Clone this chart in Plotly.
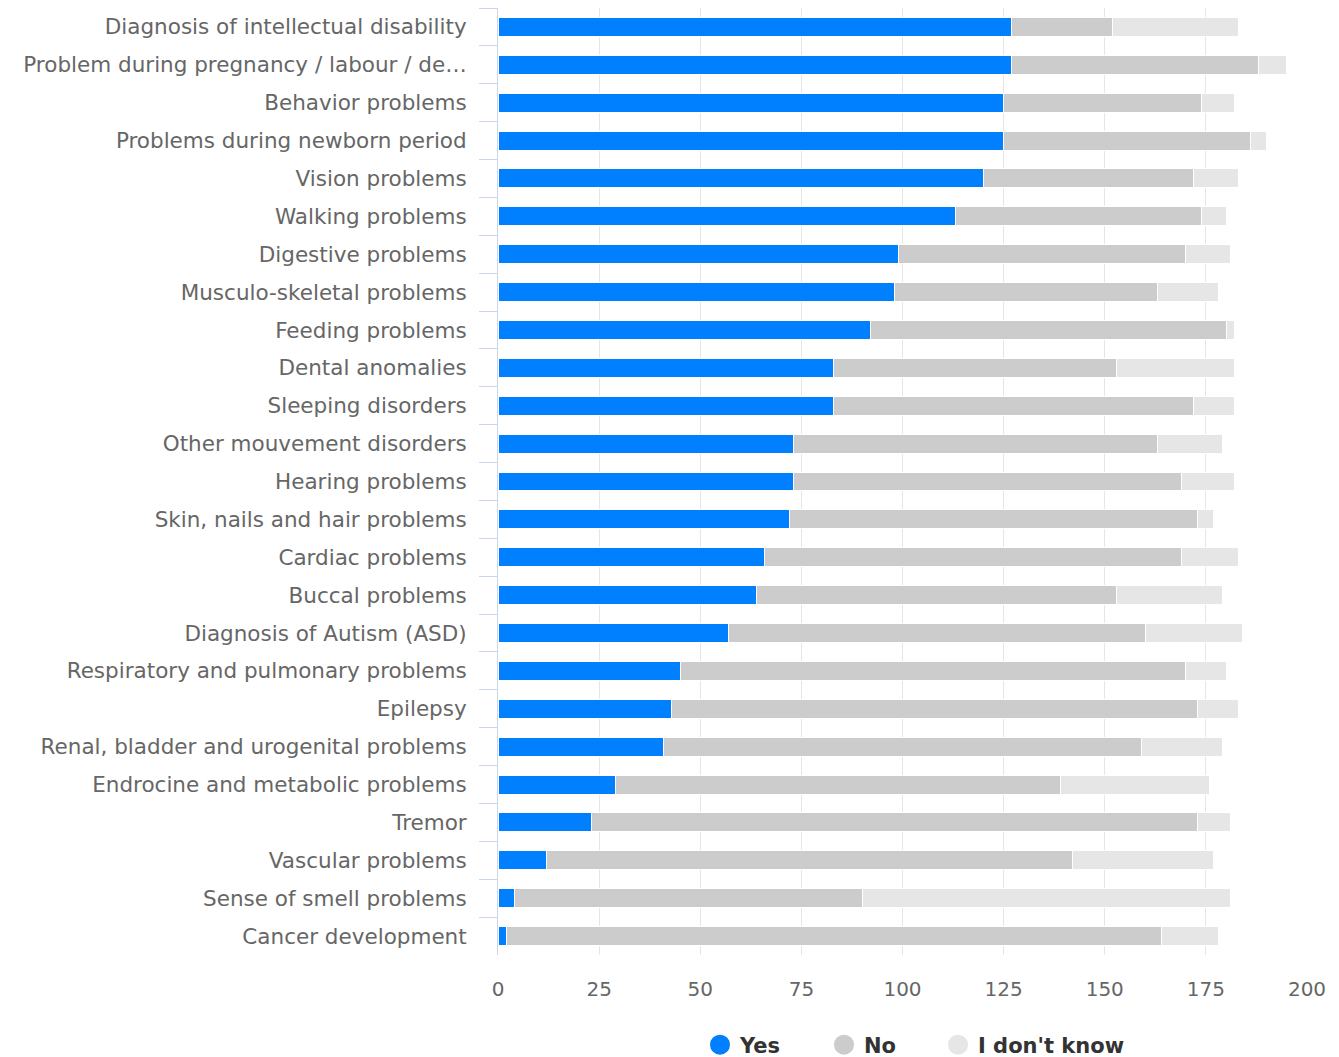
import plotly.graph_objects as go

categories = [
    "Diagnosis of intellectual disability",
    "Problem during pregnancy / labour / de…",
    "Behavior problems",
    "Problems during newborn period",
    "Vision problems",
    "Walking problems",
    "Digestive problems",
    "Musculo-skeletal problems",
    "Feeding problems",
    "Dental anomalies",
    "Sleeping disorders",
    "Other mouvement disorders",
    "Hearing problems",
    "Skin, nails and hair problems",
    "Cardiac problems",
    "Buccal problems",
    "Diagnosis of Autism (ASD)",
    "Respiratory and pulmonary problems",
    "Epilepsy",
    "Renal, bladder and urogenital problems",
    "Endrocine and metabolic problems",
    "Tremor",
    "Vascular problems",
    "Sense of smell problems",
    "Cancer development",
]
yes_vals = [127, 127, 125, 125, 120, 113, 99, 98, 92, 83, 83, 73, 73, 72, 66, 64, 57, 45, 43, 41, 29, 23, 12, 4, 2]
no_vals = [25, 61, 49, 61, 52, 61, 71, 65, 88, 70, 89, 90, 96, 101, 103, 89, 103, 125, 130, 118, 110, 150, 130, 86, 162]
idk_vals = [31, 7, 8, 4, 11, 6, 11, 15, 2, 29, 10, 16, 13, 4, 14, 26, 24, 10, 10, 20, 37, 8, 35, 91, 14]
x_ticks = [0, 25, 50, 75, 100, 125, 150, 175, 200]

series = [("Yes", yes_vals, "#0080ff"), ("No", no_vals, "#cccccc"), ("I don't know", idk_vals, "#e6e6e6")]
legend_ids = ["legend", "legend2", "legend3"]
legend_x_px = [692, 816, 930]  # left edge of each legend box (container px)

FONT = "DejaVu Sans"
W, H = 1331, 1049

fig = go.Figure()
for name, vals, color in series:
    fig.add_trace(go.Bar(
        y=categories, x=vals, name=name, orientation="h",
        marker=dict(color=color, line=dict(color="#ffffff", width=1)),
        legendgroup=name, showlegend=False,
    ))
for (name, vals, color), lid in zip(series, legend_ids):
    fig.add_trace(go.Scatter(
        x=[None], y=[None], mode="markers", name=name, legendgroup=name, legend=lid,
        marker=dict(color=color, size=16, symbol="circle", line=dict(color=color, width=4)),
    ))

legend_common = dict(
    orientation="h", xref="container", yref="container", xanchor="left",
    y=12 / H, yanchor="middle", bgcolor="rgba(0,0,0,0)",
    font=dict(size=21, color="#333333", family=FONT, weight="bold"),
    itemsizing="trace",
)

fig.update_layout(
    barmode="stack",
    bargap=0.5,
    width=W, height=H,
    margin=dict(l=490, r=32, t=0, b=102),
    plot_bgcolor="#ffffff", paper_bgcolor="#ffffff",
    font=dict(family=FONT, size=20, color="#666666"),
    legend=dict(x=legend_x_px[0] / W, **legend_common),
    legend2=dict(x=legend_x_px[1] / W, **legend_common),
    legend3=dict(x=legend_x_px[2] / W, **legend_common),
    xaxis=dict(
        range=[0, 200], tickvals=x_ticks, showgrid=True, gridcolor="#e6e6e6",
        zeroline=False, showline=False, ticks="", ticklabelstandoff=20,
        tickfont=dict(size=20, color="#666666", family=FONT),
    ),
    yaxis=dict(
        autorange="reversed", showline=True, linecolor="#ccd6eb", linewidth=1,
        ticks="outside", tickson="boundaries", ticklen=18, tickcolor="#ccd6eb",
        showgrid=False, ticklabelstandoff=26,
        tickfont=dict(size=21.5, color="#666666", family=FONT),
    ),
)

fig.write_html("out.html")
